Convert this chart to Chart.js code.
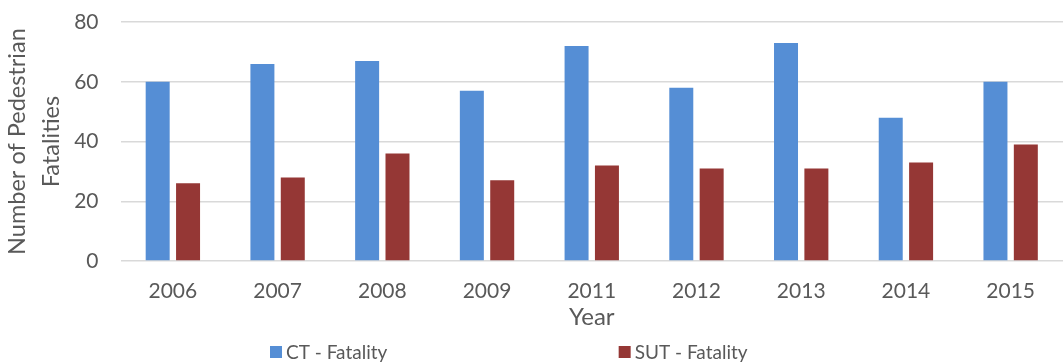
<!DOCTYPE html>
<html lang="en">
<head>
  <meta charset="UTF-8">
  <title>Pedestrian Fatalities by Year</title>
  <script src="https://cdn.jsdelivr.net/npm/chart.js"></script>
  <style>
    body { margin: 0; background: #fff; }
    .wrap { width: 1063px; height: 364px; }
  </style>
</head>
<body>
  <div class="wrap"><canvas id="fatalities"></canvas></div>

  <script>
    const years = ['2006', '2007', '2008', '2009', '2011', '2012', '2013', '2014', '2015'];
    const ctFatality = [60, 66, 67, 57, 72, 58, 73, 48, 60];
    const sutFatality = [26, 28, 36, 27, 32, 31, 31, 33, 39];
    const yTicks = [0, 20, 40, 60, 80];

    const textColor = '#595959';
    const family = 'Lato, "Open Sans", sans-serif';
    const tickFont = { family, size: 21 };
    const titleFont = { family, size: 24 };

    // legend drawn by hand so the two entries can sit far apart like the office chart
    const wideLegend = {
      id: 'wideLegend',
      afterDraw(chart) {
        const ctx = chart.ctx;
        const y = chart.height - 12;
        const spots = [0.254, 0.582];
        ctx.save();
        ctx.font = '19px ' + family;
        ctx.textBaseline = 'middle';
        chart.data.datasets.forEach((ds, i) => {
          const x = chart.width * spots[i];
          ctx.fillStyle = ds.backgroundColor;
          ctx.fillRect(x, y - 6, 12, 12);
          ctx.fillStyle = textColor;
          ctx.fillText(ds.label, x + 16, y + 1);
        });
        ctx.restore();
      }
    };

    new Chart(document.getElementById('fatalities'), {
      type: 'bar',
      data: {
        labels: years,
        datasets: [
          { label: 'CT - Fatality', data: ctFatality, backgroundColor: '#558ed5' },
          { label: 'SUT - Fatality', data: sutFatality, backgroundColor: '#953735' }
        ]
      },
      options: {
        responsive: true,
        maintainAspectRatio: false,
        animation: false,
        barPercentage: 0.79,
        categoryPercentage: 0.58,
        layout: { padding: { top: 0, right: 0, bottom: 32, left: 0 } },
        plugins: {
          legend: { display: false },
          tooltip: { enabled: false }
        },
        scales: {
          x: {
            grid: { display: false, drawTicks: false },
            border: { display: false },
            ticks: { color: textColor, font: tickFont, padding: 18 },
            title: { display: true, text: 'Year', color: textColor, font: titleFont, padding: { top: -19, bottom: 0 } }
          },
          y: {
            min: 0,
            max: 80,
            afterBuildTicks: axis => { axis.ticks = yTicks.map(v => ({ value: v })); },
            grid: { color: '#d9d9d9', lineWidth: 1.5, drawTicks: false },
            border: { display: false },
            // tiny lineHeight keeps the top label from pushing the plot down
            ticks: { color: textColor, font: { ...tickFont, lineHeight: 0.01 }, padding: 22 },
            title: {
              display: true,
              text: ['Number of Pedestrian', 'Fatalities'],
              color: textColor,
              font: { ...titleFont, size: 23.5, lineHeight: 1.45 },
              padding: { top: 0, bottom: -16 }
            }
          }
        }
      },
      plugins: [wideLegend]
    });
  </script>
</body>
</html>
